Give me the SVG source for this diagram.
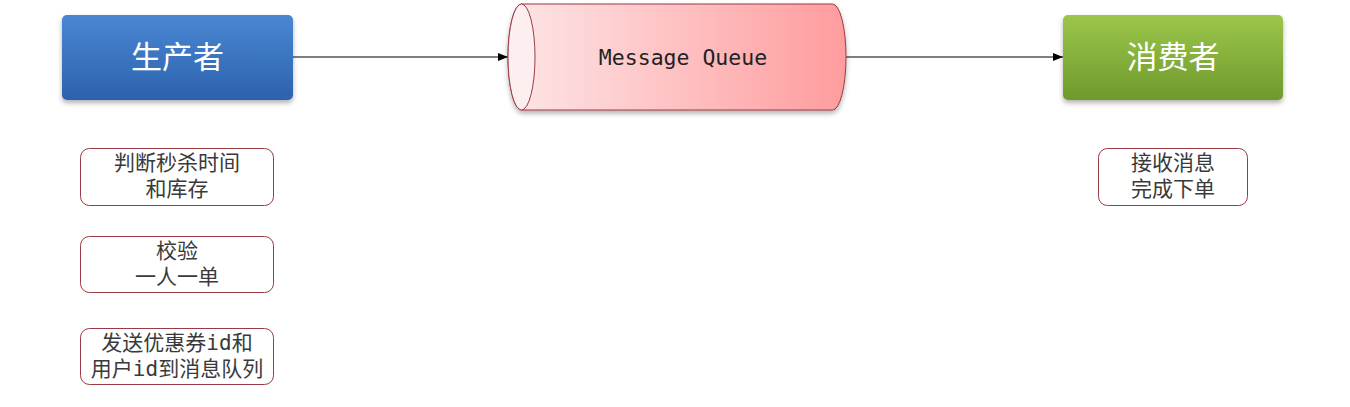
<svg xmlns="http://www.w3.org/2000/svg" width="1350" height="407" viewBox="0 0 1350 407">
<defs>
<linearGradient id="gBlue" x1="0" y1="0" x2="0" y2="1"><stop offset="0" stop-color="#4a87d2"/><stop offset="1" stop-color="#2c62ae"/></linearGradient>
<linearGradient id="gGreen" x1="0" y1="0" x2="0" y2="1"><stop offset="0" stop-color="#9cc64c"/><stop offset="1" stop-color="#6e9a2b"/></linearGradient>
<linearGradient id="gRed" x1="0" y1="0" x2="1" y2="0"><stop offset="0" stop-color="#fde6e7"/><stop offset="1" stop-color="#ff9c9e"/></linearGradient>
<filter id="sh" x="-10%" y="-10%" width="120%" height="140%"><feDropShadow dx="0" dy="3" stdDeviation="2.5" flood-color="#000" flood-opacity="0.3"/></filter>
<marker id="arr" viewBox="0 0 10 10" refX="10" refY="5" markerWidth="10" markerHeight="10" markerUnits="userSpaceOnUse" orient="auto"><path d="M0,1 L10,5 L0,9 z" fill="#000"/></marker>
</defs>
<style>
.big{font-family:"Liberation Sans","Noto Sans CJK SC",sans-serif;font-size:31px;fill:#fff;text-anchor:middle;dominant-baseline:central}
.note{fill:#fff;stroke:#9b3a44;stroke-width:1}
.nt{font-family:"Liberation Sans","Noto Sans CJK SC",sans-serif;font-size:21px;fill:#3a3a3a;text-anchor:middle}
.mono{font-family:"DejaVu Sans Mono","Liberation Mono",monospace}
.conn{stroke:#000;stroke-width:1;fill:none}
</style>
<rect width="1350" height="407" fill="#fff"/>
<g id="connectors">
<line class="conn" x1="293" y1="57" x2="508" y2="57" marker-end="url(#arr)"/>
<line class="conn" x1="846" y1="57" x2="1063" y2="57" marker-end="url(#arr)"/>
</g>
<g id="producer">
<rect x="62" y="15" width="231" height="85" rx="5" fill="url(#gBlue)" filter="url(#sh)"/>
<text class="big" x="177.5" y="57">生产者</text>
</g>
<g id="queue">
<path d="M521.5,4 L832.5,4 A13.5,53 0 0 1 832.5,110 L521.5,110 A13.5,53 0 0 1 521.5,4 z" fill="url(#gRed)" stroke="#9b3a44" stroke-width="1" filter="url(#sh)"/>
<ellipse cx="521.5" cy="57" rx="13.5" ry="53" fill="#fdeef0" stroke="#9b3a44" stroke-width="1"/>
<text x="683" y="57" font-family="DejaVu Sans Mono,Liberation Mono,monospace" font-size="21.5" fill="#222" text-anchor="middle" dominant-baseline="central">Message Queue</text>
</g>
<g id="consumer">
<rect x="1063" y="15" width="220" height="85" rx="5" fill="url(#gGreen)" filter="url(#sh)"/>
<text class="big" x="1173" y="57">消费者</text>
</g>
<g id="note1">
<rect class="note" x="80.5" y="148.5" width="193" height="57" rx="9"/>
<text class="nt" x="177" y="170">判断秒杀时间</text>
<text class="nt" x="177" y="196">和库存</text>
</g>
<g id="note2">
<rect class="note" x="80.5" y="236.5" width="193" height="56" rx="9"/>
<text class="nt" x="177" y="258">校验</text>
<text class="nt" x="177" y="284">一人一单</text>
</g>
<g id="note3">
<rect class="note" x="80.5" y="328.5" width="193" height="56" rx="9"/>
<text class="nt" x="177" y="350">发送优惠券<tspan class="mono">id</tspan>和</text>
<text class="nt" x="177" y="376">用户<tspan class="mono">id</tspan>到消息队列</text>
</g>
<g id="note4">
<rect class="note" x="1098.5" y="148.5" width="149" height="57" rx="9"/>
<text class="nt" x="1173" y="170">接收消息</text>
<text class="nt" x="1173" y="196">完成下单</text>
</g>
</svg>
